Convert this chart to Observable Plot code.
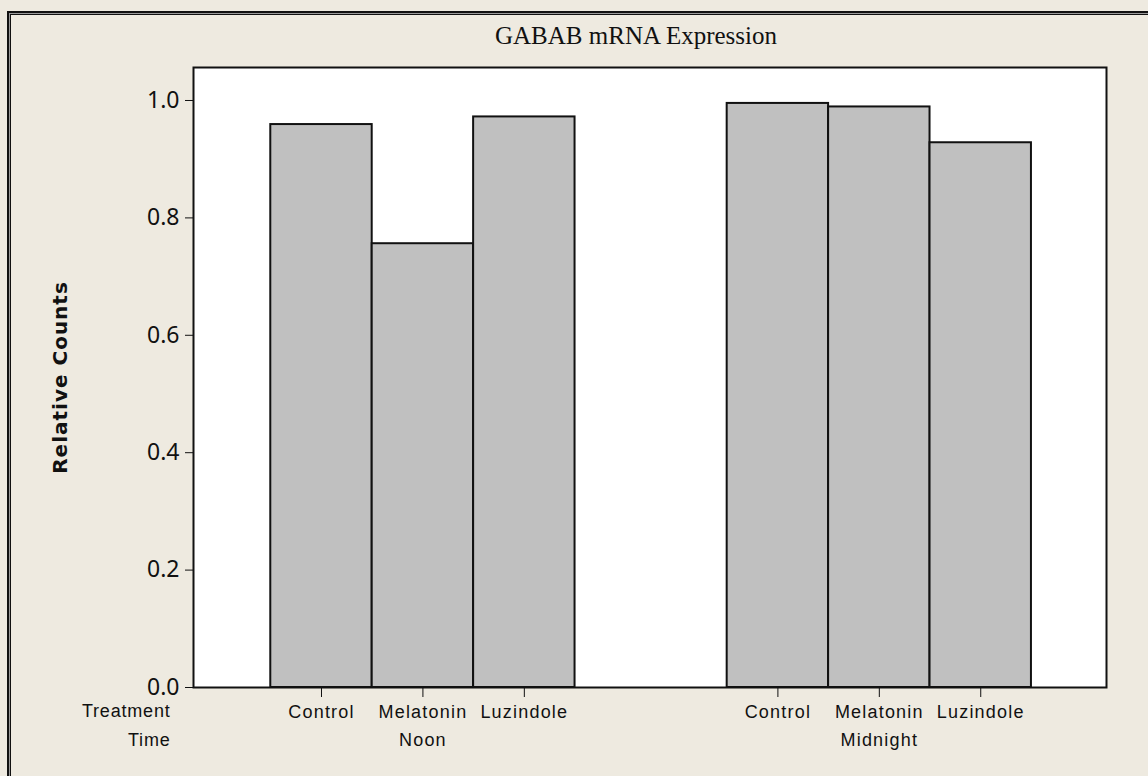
<!DOCTYPE html>
<html>
<head>
<meta charset="utf-8">
<script src="https://cdn.jsdelivr.net/npm/d3@7"></script>
<script src="https://cdn.jsdelivr.net/npm/@observablehq/plot@0.6"></script>
<style>
  html, body { margin: 0; padding: 0; background: #EEEAE0; overflow: hidden; }
  #page { position: relative; width: 1148px; height: 776px; background: #EEEAE0; overflow: hidden; }
  #border { position: absolute; left: 7px; top: 11px; width: 1200px; height: 820px; box-sizing: border-box;
            border: 2px solid #111; box-shadow: inset 0 0 0 1px #9a9a9a, inset 0 0 0 2px #111; }
  #title { position: absolute; left: 236px; top: 23px; width: 800px; text-align: center;
           font-family: "Liberation Serif", "DejaVu Serif", serif; font-size: 25px; line-height: 1; color: #111; }
  #chart { position: absolute; left: 0; top: 0; }
  #chart svg { background: transparent !important; }
  g[aria-label^="y-axis"] text { font-size: 23px; font-family: "Noto Sans", "DejaVu Sans", sans-serif; }
  g[aria-label^="x-axis"] text { font-size: 18px; letter-spacing: 1.2px; }
  .rowlab text { letter-spacing: 0.8px; }
  .timelab text { letter-spacing: 1.2px; }
  .ylab text { letter-spacing: 1px; }
</style>
</head>
<body>
<div id="page">
  <div id="border"></div>
  <div id="chart"></div>
  <div id="title">GABAB mRNA Expression</div>
</div>
<script>
// ---- data ----
const times = ["Noon", "Midnight"];
const treatments = ["Control", "Melatonin", "Luzindole"];
const noonValues = [0.959, 0.756, 0.972];
const midnightValues = [0.995, 0.989, 0.928];
const yTicks = [0, 0.2, 0.4, 0.6, 0.8, 1.0];
const yTitle = "Relative Counts";
const rowLabels = ["Treatment", "Time"];

// ---- build table (bar slot index derived from category order) ----
const groupStep = 4.5; // slots per time group incl. gap
const seriesByTime = [noonValues, midnightValues];
const table = [];
times.forEach((t, gi) => {
  treatments.forEach((tr, ti) => {
    table.push({time: t, treatment: tr, value: seriesByTime[gi][ti], pos: gi * groupStep + ti});
  });
});
const timeLabels = times.map((t, gi) => ({time: t, pos: gi * groupStep + 1}));
const labelOf = new Map(table.map(d => [d.pos, d.treatment]));

const plot = Plot.plot({
  width: 1148,
  height: 776,
  marginLeft: 193,
  marginRight: 42,
  marginTop: 67,
  marginBottom: 89,
  style: {background: "transparent", fontFamily: "'Liberation Sans', Arial, sans-serif", fontSize: "18px", color: "#111"},
  x: {
    domain: [-1.262, 7.74],
    ticks: table.map(d => d.pos),
    tickFormat: v => labelOf.get(v) ?? "",
    tickSize: 10,
    tickPadding: 8,
    label: null
  },
  y: {
    domain: [0, 1.0562],
    ticks: yTicks,
    tickFormat: d3.format(".1f"),
    tickSize: 8,
    tickPadding: 6,
    label: null
  },
  marks: [
    Plot.frame({fill: "white", stroke: "#111", strokeWidth: 2}),
    Plot.rectY(table, {x1: d => d.pos - 0.5, x2: d => d.pos + 0.5, y: "value", fill: "#C0C0C0", stroke: "#111", strokeWidth: 2}),
    Plot.text(timeLabels, {x: "pos", text: "time", frameAnchor: "bottom", dy: 58, fontSize: 18, className: "timelab"}),
    Plot.text([rowLabels[0]], {frameAnchor: "bottom-left", text: d => d, dx: -23, dy: 29, textAnchor: "end", fontSize: 18, className: "rowlab"}),
    Plot.text([rowLabels[1]], {frameAnchor: "bottom-left", text: d => d, dx: -23, dy: 58, textAnchor: "end", fontSize: 18, className: "rowlab"}),
    Plot.text([yTitle], {frameAnchor: "left", text: d => d, dx: -133, rotate: -90, textAnchor: "middle", fontSize: 20, fontWeight: "bold", fontFamily: "'DejaVu Sans', sans-serif", className: "ylab"})
  ]
});
document.getElementById("chart").appendChild(plot);
</script>
</body>
</html>
